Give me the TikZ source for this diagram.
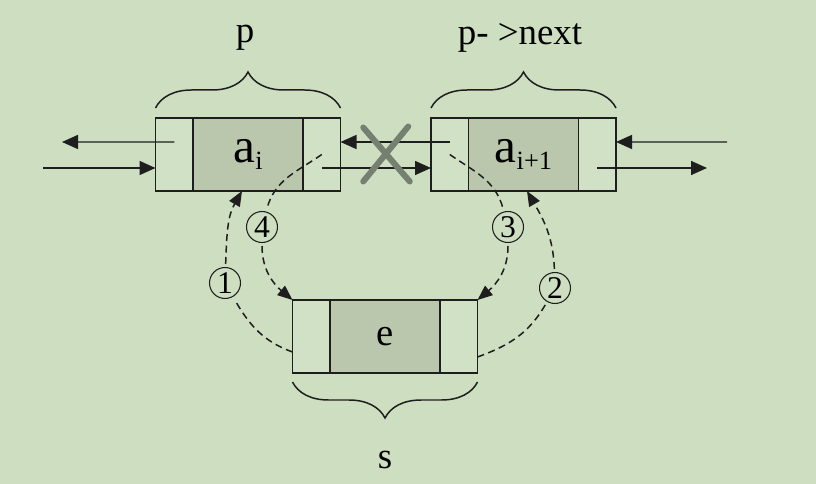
\documentclass[tikz,border=0pt]{standalone}
\usepackage{fontspec}
\setmainfont{Liberation Serif}
\usepackage{tikz}
\usetikzlibrary{arrows.meta, positioning, calc, decorations.pathreplacing}
\definecolor{mybg}{RGB}{205,222,193}
\definecolor{mycell}{RGB}{209,225,198}
\definecolor{mydata}{RGB}{186,199,172}
\definecolor{mydark}{RGB}{30,30,30}
\definecolor{mycross}{RGB}{118,128,112}
\newcommand{\lowsub}[1]{\raisebox{-0.14cm}{\fontsize{15}{15}\selectfont #1}}
\tikzset{
  datacell/.style={rectangle, draw=mydark, fill=mydata,
    minimum width=2.2cm, minimum height=1.46cm, inner sep=0pt, outer sep=0pt,
    font=\fontsize{28}{28}\selectfont, line width=0.85pt},
  ptrcell/.style={rectangle, draw=mydark, fill=mycell,
    minimum width=0.75cm, minimum height=1.46cm, inner sep=0pt, outer sep=0pt,
    line width=0.85pt},
  numcirc/.style={circle, draw=mydark, minimum size=0.62cm, inner sep=0pt,
    outer sep=2pt, font=\fontsize{18}{18}\selectfont, line width=0.6pt},
  lbl/.style={font=\fontsize{21}{21}\selectfont, inner sep=0pt},
  brace/.style={decorate, decoration={brace, amplitude=0.72cm, raise=0.2cm},
    line width=0.85pt, color=mydark},
  arrow/.style={-{Triangle[length=0.32cm, width=0.28cm]}, line width=0.85pt, color=mydark},
  dasharrow/.style={-{Triangle[length=0.3cm, width=0.24cm]}, line width=0.85pt,
    color=mydark, dash pattern=on 0.14cm off 0.09cm},
  dashline/.style={line width=0.85pt, color=mydark, dash pattern=on 0.14cm off 0.09cm},
  cross/.style={line width=0.12cm, color=mycross, line cap=round}
}

\begin{document}
\begin{tikzpicture}
  \fill[mybg] (0,0) rectangle (16.32,-9.68);
  \useasboundingbox (0,0) rectangle (16.32,-9.68);

  % Node p
  \node[datacell] (ai) at (4.96,-3.09) {a\lowsub{i}};
  \node[ptrcell, left=0pt of ai] (pl) {};
  \node[ptrcell, right=0pt of ai] (pr) {};

  % Node p->next
  \node[datacell] (ai1) at (10.47,-3.09) {a\lowsub{i+1}};
  \node[ptrcell, left=0pt of ai1] (ai1l) {};
  \node[ptrcell, right=0pt of ai1] (ai1r) {};

  % New node s
  \node[datacell, font=\fontsize{22}{22}\selectfont] (e) at (7.70,-6.73) {e};
  \node[ptrcell, left=0pt of e] (el) {};
  \node[ptrcell, right=0pt of e] (er) {};

  % Braces and names
  \draw[brace] (pl.north west) -- (pr.north east);
  \draw[brace] (ai1l.north west) -- (ai1r.north east);
  \draw[brace, decoration={raise=0.18cm}] (er.south east) -- (el.south west);
  \node[lbl] (plbl) at (4.9,-0.76) {p};
  \node[lbl] (nlbl) at (10.4,-0.76) {p- >next};
  \node[lbl] (slbl) at (7.7,-9.2) {s};

  % Outer links
  \coordinate (lout) at (1.24,-2.84);
  \coordinate (lin) at (0.86,-3.36);
  \coordinate (rin) at (14.54,-2.84);
  \coordinate (rout) at (14.14,-3.36);
  \draw[arrow] ([yshift=0.25cm]pl.center) -- (lout);
  \draw[arrow] (lin) -- ([yshift=-0.27cm]pl.west);
  \draw[arrow] ([yshift=0.25cm]ai1l.center) -- ([yshift=0.25cm]pr.east);
  \draw[arrow] ([yshift=-0.27cm]pr.center) -- ([yshift=-0.27cm]ai1l.west);
  \draw[arrow] (rin) -- ([yshift=0.25cm]ai1r.east);
  \draw[arrow] ([yshift=-0.27cm]ai1r.center) -- (rout);

  % Broken link
  \coordinate (xc) at ($(pr.east)!0.5!(ai1l.west)$);
  \draw[cross] ([shift={(-0.45,0.54)}]xc) -- ([shift={(0.48,-0.54)}]xc);
  \draw[cross] ([shift={(0.45,0.56)}]xc) -- ([shift={(-0.45,-0.54)}]xc);

  % Steps
  \node[numcirc] (c1) at (4.5,-5.66) {1};
  \node[numcirc] (c2) at (11.1,-5.76) {2};
  \node[numcirc] (c3) at (10.16,-4.54) {3};
  \node[numcirc] (c4) at (5.24,-4.54) {4};

  \draw[dashline] ([yshift=-0.31cm]el.west) to[out=160, in=-60] (c1);
  \draw[dasharrow] (c1) to[out=88, in=-120] ([xshift=-0.12cm]ai.south);
  \draw[dashline] ([yshift=-0.41cm]er.east) to[out=20, in=-120] (c2);
  \draw[dasharrow] (c2) to[out=92, in=-60] ([xshift=0.07cm]ai1.south);
  \draw[dashline] (ai1l.center) to[out=-35, in=105] (c3);
  \draw[dasharrow] (c3) to[out=-90, in=40] (er.north east);
  \draw[dashline] (pr.center) to[out=215, in=75] (c4);
  \draw[dasharrow] (c4) to[out=-90, in=140] (el.north west);
\end{tikzpicture}
\end{document}
